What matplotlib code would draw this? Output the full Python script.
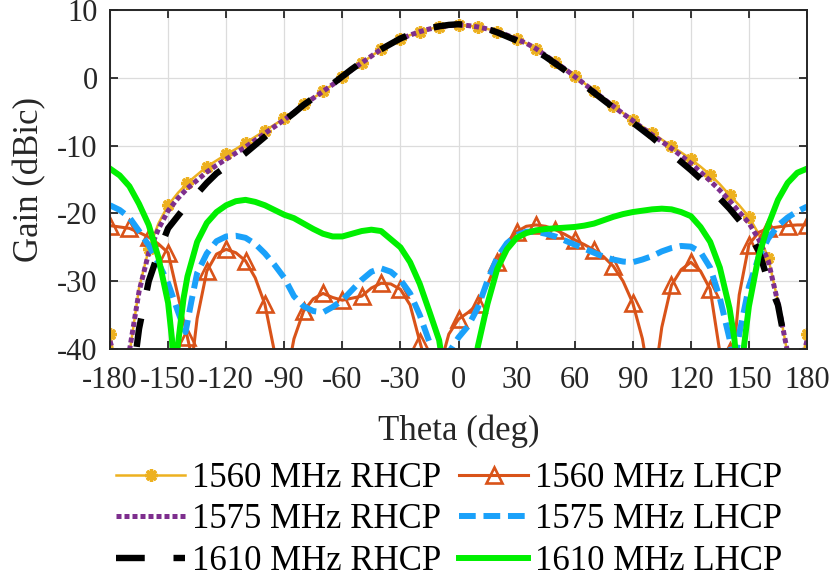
import numpy as np
import matplotlib.pyplot as plt

plt.rcParams['font.family'] = ['Liberation Serif', 'DejaVu Serif']
plt.rcParams['axes.unicode_minus'] = False

# RHCP curves share a 5 degree grid
theta = np.arange(-180, 181, 5)

rhcp_1560 = [-37.8, -46.0, -40.8, -31.0, -25.3, -21.5, -18.8, -17.0, -15.5, -14.3,
             -13.1, -12.2, -11.3, -10.5, -9.6, -8.7, -7.8, -6.9, -6.0, -5.0,
             -3.9, -3.0, -2.0, -1.0, 0.1, 1.2, 2.2, 3.2, 4.2, 5.0,
             5.7, 6.3, 6.8, 7.2, 7.5, 7.7, 7.8, 7.7, 7.5, 7.2,
             6.8, 6.3, 5.7, 5.1, 4.3, 3.3, 2.3, 1.3, 0.3, -0.8,
             -1.9, -3.0, -4.1, -5.2, -6.2, -7.2, -8.1, -9.1, -10.1, -11.0,
             -12.0, -13.1, -14.3, -15.7, -17.3, -18.8, -20.5, -23.0, -26.6, -33.0,
             -40.8, -46.0, -37.8]

rhcp_1575 = [-38.8, -44.0, -40.3, -31.5, -25.8, -22.3, -19.6, -17.8, -16.3, -15.1,
             -13.9, -12.9, -12.0, -11.1, -10.2, -9.2, -8.2, -7.2, -6.2, -5.1,
             -4.0, -3.0, -2.0, -1.0, 0.1, 1.2, 2.2, 3.2, 4.2, 5.0,
             5.7, 6.3, 6.8, 7.2, 7.5, 7.7, 7.8, 7.7, 7.5, 7.2,
             6.8, 6.3, 5.7, 5.1, 4.3, 3.3, 2.3, 1.3, 0.2, -0.9,
             -2.0, -3.1, -4.2, -5.3, -6.3, -7.4, -8.4, -9.4, -10.4, -11.5,
             -12.6, -13.9, -15.2, -16.6, -18.1, -19.8, -21.4, -23.8, -27.0, -33.2,
             -40.5, -44.0, -38.8]

rhcp_1610 = [-55.0, -55.0, -48.0, -37.0, -30.0, -25.8, -22.2, -20.4, -18.6, -17.1,
             -15.5, -14.1, -13.1, -12.2, -11.1, -9.9, -8.7, -7.5, -6.3, -5.2,
             -4.0, -3.0, -2.0, -0.9, 0.2, 1.3, 2.3, 3.3, 4.2, 5.0,
             5.8, 6.4, 6.9, 7.3, 7.6, 7.8, 7.9, 7.8, 7.6, 7.2,
             6.7, 6.1, 5.5, 4.8, 4.0, 3.1, 2.1, 1.1, 0.0, -1.1,
             -2.2, -3.3, -4.4, -5.5, -6.6, -7.7, -8.8, -10.0, -11.2, -12.4,
             -13.6, -14.9, -16.3, -17.8, -19.3, -21.0, -22.8, -25.5, -30.0, -33.5,
             -41.0, -55.0, -55.0]

# LHCP curves, extra points near the nulls
theta_l1560 = [-180, -175, -170, -165, -160, -155, -150, -145, -140, -137.5, -135, -130, -125,
               -120, -115, -110, -105, -100, -95, -90, -85, -80, -75, -70, -65, -60, -55,
               -50, -45, -40, -35, -30, -25, -20, -15, -10, -5, 0, 5, 10, 15, 20, 25,
               30, 35, 40, 45, 50, 55, 60, 65, 70, 75, 80, 85, 90, 95, 100, 105, 110,
               115, 120, 125, 130, 135, 137.5, 140, 142.5, 145, 150, 155, 160, 165, 170,
               175, 180]
lhcp_1560 = [-21.8, -22.0, -22.2, -22.8, -23.5, -24.5, -25.8, -32.0, -38.3, -41.5, -35.5, -28.5, -26.0,
             -25.3, -25.8, -27.0, -29.5, -33.4, -40.5, -46.0, -38.5, -34.4, -32.6, -31.8, -32.4, -32.8, -32.5,
             -32.2, -31.0, -30.3, -30.4, -31.2, -33.5, -38.9, -44.0, -43.0, -37.8, -35.6, -34.6, -33.4, -30.5, -27.1, -24.3,
             -22.7, -21.9, -21.7, -21.9, -22.4, -23.1, -23.9, -24.6, -25.4, -26.4, -27.8, -30.0, -33.2, -38.5, -47.0, -36.8, -30.6,
             -28.3, -27.2, -28.5, -31.2, -40.5, -43.0, -40.3, -39.5, -32.0, -24.6, -22.8, -22.2, -22.0, -21.8,
             -21.7, -21.7]

theta_l1575 = [-180, -175, -170, -165, -160, -155, -150, -145, -141, -138, -135, -130, -125,
               -120, -115, -110, -105, -100, -95, -90, -85, -80, -75, -70, -65, -60, -55,
               -50, -45, -40, -35, -30, -25, -20, -15, -10, -5, 0, 5, 10, 15, 20, 25,
               30, 35, 40, 45, 50, 55, 60, 65, 70, 75, 80, 85, 90, 95, 100, 105, 110,
               115, 120, 125, 130, 135, 140, 142.5, 145, 150, 155, 160, 165, 170, 175, 180]
lhcp_1575 = [-18.8, -19.5, -20.6, -22.6, -24.7, -27.3, -30.3, -34.4, -37.5, -33.0, -28.8, -25.9, -24.1,
             -23.4, -23.3, -23.6, -24.5, -25.9, -27.6, -29.5, -32.2, -33.7, -34.4, -34.6, -33.8, -32.8, -31.3,
             -29.8, -28.6, -28.1, -28.6, -29.8, -31.8, -35.0, -39.0, -48.0, -40.5, -38.3, -36.6, -33.9, -29.9, -26.5, -24.4,
             -23.2, -22.7, -22.7, -23.0, -23.4, -24.0, -24.6, -25.2, -25.8, -26.4, -26.8, -27.1, -27.2, -26.8, -26.3, -25.6, -25.1,
             -24.8, -24.9, -25.7, -28.0, -32.5, -38.5, -42.5, -37.8, -30.8, -26.5, -23.7, -21.8, -20.6, -19.7, -19.0]

theta_l1610 = [-180, -175, -170, -165, -160, -155, -150, -148, -146.5, -145, -142, -140, -135,
               -130, -125, -120, -115, -110, -105, -100, -95, -90, -85, -80, -75, -70, -65,
               -60, -55, -50, -45, -40, -35, -30, -25, -20, -15, -10, -5, 0, 5, 10, 15,
               20, 25, 30, 35, 40, 45, 50, 55, 60, 65, 70, 75, 80, 85, 90, 95, 100,
               105, 110, 115, 120, 125, 130, 135, 140, 142.5, 145.5, 147.5, 150, 155, 160,
               165, 170, 175, 180]
lhcp_1610 = [-13.4, -14.4, -16.0, -18.6, -21.7, -26.5, -33.2, -38.5, -48.0, -39.5, -32.5, -29.3, -24.2,
             -21.4, -19.8, -18.8, -18.2, -18.0, -18.3, -18.8, -19.5, -20.2, -20.7, -21.5, -22.3, -23.0, -23.4,
             -23.4, -23.0, -22.6, -22.4, -22.6, -23.8, -25.0, -27.2, -30.4, -34.5, -38.7, -48.0, -55.0, -48.0, -39.6, -33.3,
             -28.2, -25.3, -23.6, -22.9, -22.5, -22.3, -22.2, -22.1, -22.0, -21.8, -21.5, -21.0, -20.5, -20.1, -19.8, -19.6, -19.4,
             -19.3, -19.4, -19.8, -20.4, -22.0, -24.2, -28.0, -34.0, -38.5, -48.0, -39.5, -33.7, -26.3, -21.7,
             -18.0, -15.5, -14.0, -13.4]

xticks = [-180, -150, -120, -90, -60, -30, 0, 30, 60, 90, 120, 150, 180]
yticks = [-40, -30, -20, -10, 0, 10]


def every_10(t):
    return [i for i, v in enumerate(t) if v % 10 == 0]


fig = plt.figure(figsize=(8.36, 5.77), dpi=100)
ax = fig.add_axes([0.1316, 0.3951, 0.8337, 0.5876])

h1, = ax.plot(theta, rhcp_1560, color='#EDB120', lw=1.8, marker=(8, 2, 0), ms=9, mew=2.4,
              markevery=every_10(theta), label='1560 MHz RHCP')
h2, = ax.plot(theta_l1560, lhcp_1560, color='#D95319', lw=2.2, marker='^', ms=11, mew=1.9,
              mfc='none', markevery=every_10(theta_l1560), label='1560 MHz LHCP')
h3, = ax.plot(theta, rhcp_1575, color='#7E2F8E', lw=3.6, dashes=(1.0, 0.6),
              dash_capstyle='butt', label='1575 MHz RHCP')
h4, = ax.plot(theta_l1575, lhcp_1575, color='#1AA1FA', lw=4.3, dashes=(2.8, 1.3),
              dash_capstyle='butt', label='1575 MHz LHCP')
h5, = ax.plot(theta, rhcp_1610, color='black', lw=4.6, dashes=(4.5, 4.5),
              dash_capstyle='butt', label='1610 MHz RHCP')
h6, = ax.plot(theta_l1610, lhcp_1610, color='#00F000', lw=4.3, label='1610 MHz LHCP')

ax.set_xlim(-180, 180)
ax.set_ylim(-40, 10)
ax.set_xticks(xticks)
ax.set_yticks(yticks)
ax.grid(True, color='#dcdcdc', lw=0.9)
ax.set_axisbelow(True)
ax.tick_params(direction='in', length=6, width=1.3, top=True, right=True,
               labelsize=22, colors='#262626')
ax.tick_params(axis='x', pad=12)
ax.tick_params(axis='y', pad=9)
for s in ax.spines.values():
    s.set_linewidth(1.4)
    s.set_color('#262626')

ax.set_xlabel('Theta (deg)', fontsize=25, color='#262626', labelpad=14)
ax.set_ylabel('Gain (dBic)', fontsize=25, color='#262626', labelpad=8)

fig.legend([h1, h3, h5, h2, h4, h6],
           [h.get_label() for h in [h1, h3, h5, h2, h4, h6]],
           ncol=2, loc='upper left', bbox_to_anchor=(116 / 836, 1 - 462 / 577),
           frameon=False, fontsize=25, borderpad=0, borderaxespad=0,
           handlelength=2.0, handletextpad=0.2, columnspacing=0.5, labelspacing=0.24)

fig.savefig('out.png', dpi=100)
